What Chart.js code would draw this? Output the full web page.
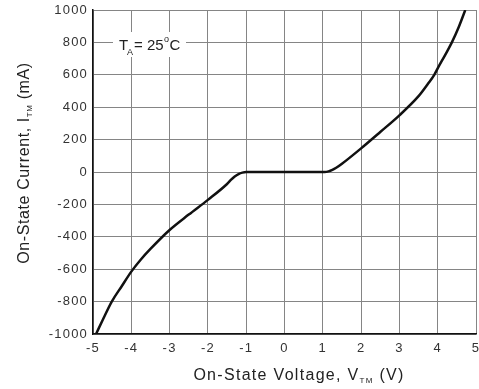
<!DOCTYPE html>
<html>
<head>
<meta charset="utf-8">
<script src="https://cdn.jsdelivr.net/npm/chart.js@4"></script>
<style>
  body { margin: 0; background: #fff; }
  #wrap { width: 479px; height: 389px; }
</style>
</head>
<body>
<div id="wrap"><canvas id="ivChart"></canvas></div>
<script>
// on-state voltage (V) and current (mA)
const voltage = [-4.92, -4.75, -4.51, -4.25, -4.0, -3.75, -3.5, -3.0, -2.5, -2.0, -1.5, -1.4, -1.3, -1.2, -1.1, -1.0,
                 0, 1.05, 1.15, 1.25, 1.35, 1.5, 2.0, 2.5, 3.0, 3.5, 3.75, 3.91, 4.0, 4.2, 4.37, 4.55, 4.72];
const current = [-1000, -915, -800, -705, -615, -540, -475, -358, -263, -172, -74, -49, -28, -13, -4, 0,
                 0, 0, 4, 13, 26, 51, 146, 247, 350, 468, 546, 600, 640, 725, 800, 895, 1000];
const xTicks = [-5, 5, 1];
const yTicks = [-1000, 1000, 200];

const points = voltage.map((v, i) => ({ x: v, y: current[i] }));

const FONT = "'Liberation Sans', Arial, sans-serif";

// the scan renders text with a little extra spacing
const spacing = {
    id: "spacing",
    beforeUpdate(chart) { chart.ctx.letterSpacing = "1.2px"; },
    beforeDraw(chart) { chart.ctx.letterSpacing = "1.2px"; }
};

function drawParts(ctx, parts, cx, y) {
    let w = 0;
    parts.forEach(p => { ctx.font = p[1]; w += ctx.measureText(p[0]).width; });
    let x = cx - w / 2;
    parts.forEach(p => {
        ctx.font = p[1];
        ctx.fillText(p[0], x, y + p[2]);
        x += ctx.measureText(p[0]).width;
    });
}

// axis titles with subscripts + temperature note
const labels = {
    id: "labels",
    afterDraw(chart) {
        const ctx = chart.ctx;
        const big = "16px " + FONT;
        const small = "8px " + FONT;
        ctx.save();
        ctx.fillStyle = "#222";
        ctx.textBaseline = "alphabetic";

        ctx.letterSpacing = "1.3px";
        drawParts(ctx, [["On-State Voltage, V", big, 0], ["TM", small, 3], [" (V)", big, 0]], 299, 380);

        ctx.translate(29, 163);
        ctx.rotate(-Math.PI / 2);
        ctx.letterSpacing = "0.6px";
        drawParts(ctx, [["On-State Current, I", big, 0], ["TM", small, 3], [" (mA)", big, 0]], 0, 0);
        ctx.restore();

        // T_A note on a white box
        ctx.save();
        ctx.letterSpacing = "0px";
        ctx.fillStyle = "#fff";
        ctx.fillRect(113, 32, 73, 25);
        ctx.fillStyle = "#222";
        ctx.font = "15px " + FONT;
        ctx.fillText("T", 119, 50);
        ctx.font = "9px " + FONT;
        ctx.fillText("A", 127, 55);
        ctx.font = "15px " + FONT;
        ctx.fillText("= 25", 134, 50);
        const tx = 134 + ctx.measureText("= 25").width;
        ctx.font = "9px " + FONT;
        ctx.fillText("o", tx + 0.5, 42);
        ctx.font = "15px " + FONT;
        ctx.fillText("C", tx + 6, 50);
        ctx.restore();
    }
};

new Chart(document.getElementById("ivChart"), {
    type: "scatter",
    data: {
        datasets: [{
            data: points,
            showLine: true,
            borderColor: "#111",
            borderWidth: 2.5,
            pointRadius: 0,
            cubicInterpolationMode: "monotone"
        }]
    },
    options: {
        responsive: true,
        maintainAspectRatio: false,
        animation: false,
        layout: { padding: { top: 10, right: 3, left: 0, bottom: 0 } },
        plugins: { legend: { display: false }, tooltip: { enabled: false } },
        scales: {
            x: {
                min: xTicks[0], max: xTicks[1],
                afterFit: s => { s.height = 55; s.paddingLeft = 0; s.paddingRight = 0; },
                ticks: { stepSize: xTicks[2], padding: 7, color: "#333", maxRotation: 0,
                         font: { family: FONT, size: 13 } },
                grid: { color: "#858585", lineWidth: 1, drawTicks: false },
                border: { color: "#111", width: 1.5 }
            },
            y: {
                min: yTicks[0], max: yTicks[1],
                afterFit: s => { s.width = 93; s.paddingTop = 0; s.paddingBottom = 0; },
                ticks: { stepSize: yTicks[2], padding: 5, color: "#333",
                         callback: v => String(v),
                         font: { family: FONT, size: 13 } },
                grid: { color: "#858585", lineWidth: 1, drawTicks: false },
                border: { color: "#111", width: 1.5 }
            }
        }
    },
    plugins: [spacing, labels]
});
</script>
</body>
</html>
